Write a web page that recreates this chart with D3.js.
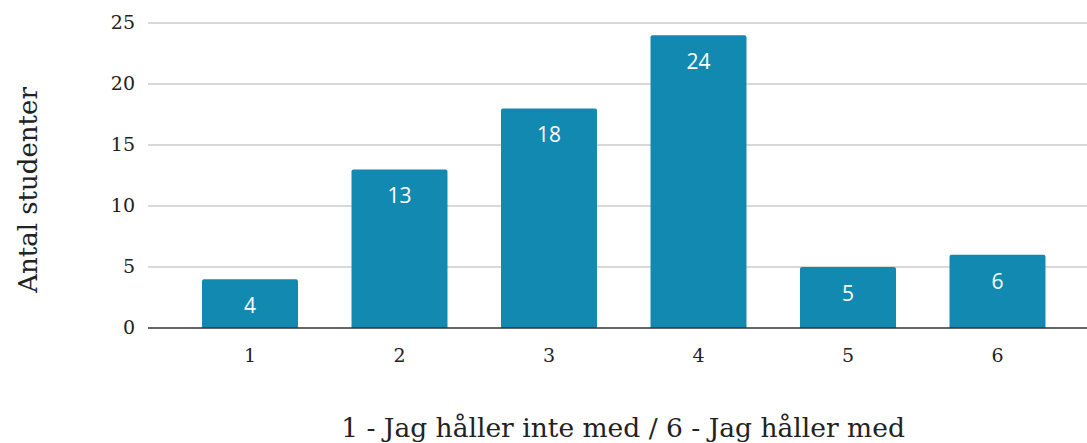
<!DOCTYPE html>
<html>
<head>
<meta charset="utf-8">
<script src="https://cdn.jsdelivr.net/npm/d3@7"></script>
<style>
  body { margin: 0; background: #fff; }
  text { font-family: Georgia, "DejaVu Serif", "Liberation Serif", serif; }
</style>
</head>
<body>
<div id="chart"></div>
<script>
const categories = ["1", "2", "3", "4", "5", "6"];
const counts = [4, 13, 18, 24, 5, 6];
const yTicks = [0, 5, 10, 15, 20, 25];

const width = 1087;
const height = 443;

const svg = d3.select("#chart")
  .append("svg")
  .attr("width", width)
  .attr("height", height);

const x = d3.scaleBand()
  .domain(categories)
  .range([175.25, 1072.25])
  .paddingInner(0.358)
  .paddingOuter(0.179);

const y = d3.scaleLinear()
  .domain([0, 25])
  .range([328, 23]);

// grid lines
svg.append("g")
  .selectAll("line")
  .data(yTicks.filter(d => d > 0))
  .enter()
  .append("line")
  .attr("x1", 148)
  .attr("x2", 1087)
  .attr("y1", d => y(d))
  .attr("y2", d => y(d))
  .style("stroke", "#cccccc")
  .style("stroke-width", 1.5);

// y tick labels
svg.append("g")
  .selectAll("text")
  .data(yTicks)
  .enter()
  .append("text")
  .attr("x", 135)
  .attr("y", d => y(d) + 6)
  .attr("text-anchor", "end")
  .style("font-size", "19px")
  .style("fill", "#222")
  .text(d => d);

// bars, rounded top only
const r = 2;
svg.append("g")
  .selectAll("path")
  .data(counts)
  .enter()
  .append("path")
  .attr("d", (d, i) => {
    const x0 = x(categories[i]), x1 = x0 + x.bandwidth();
    const y0 = y(0), y1 = y(d);
    return `M${x0},${y0}V${y1 + r}Q${x0},${y1} ${x0 + r},${y1}H${x1 - r}Q${x1},${y1} ${x1},${y1 + r}V${y0}Z`;
  })
  .style("fill", "#1289b1");

// value labels
svg.append("g")
  .selectAll("text")
  .data(counts)
  .enter()
  .append("text")
  .attr("x", (d, i) => x(categories[i]) + x.bandwidth() / 2)
  .attr("y", d => y(d) + 34)
  .attr("text-anchor", "middle")
  .style("font-family", "'Open Sans', 'DejaVu Sans', sans-serif")
  .style("font-size", "21px")
  .style("fill", "#fff")
  .text(d => d);

// baseline
svg.append("line")
  .attr("x1", 148)
  .attr("x2", 1087)
  .attr("y1", y(0))
  .attr("y2", y(0))
  .style("stroke", "#333")
  .style("stroke-width", 1.5);

// x tick labels
svg.append("g")
  .selectAll("text")
  .data(categories)
  .enter()
  .append("text")
  .attr("x", d => x(d) + x.bandwidth() / 2)
  .attr("y", 362)
  .attr("text-anchor", "middle")
  .style("font-size", "19px")
  .style("fill", "#222")
  .text(d => d);

// axis titles
svg.append("text")
  .attr("x", 623)
  .attr("y", 437)
  .attr("text-anchor", "middle")
  .style("font-size", "26.5px")
  .style("fill", "#222")
  .text("1 - Jag håller inte med / 6 - Jag håller med");

svg.append("text")
  .attr("transform", "translate(37,190) rotate(-90)")
  .attr("text-anchor", "middle")
  .style("font-size", "26px")
  .style("fill", "#222")
  .text("Antal studenter");
</script>
</body>
</html>
